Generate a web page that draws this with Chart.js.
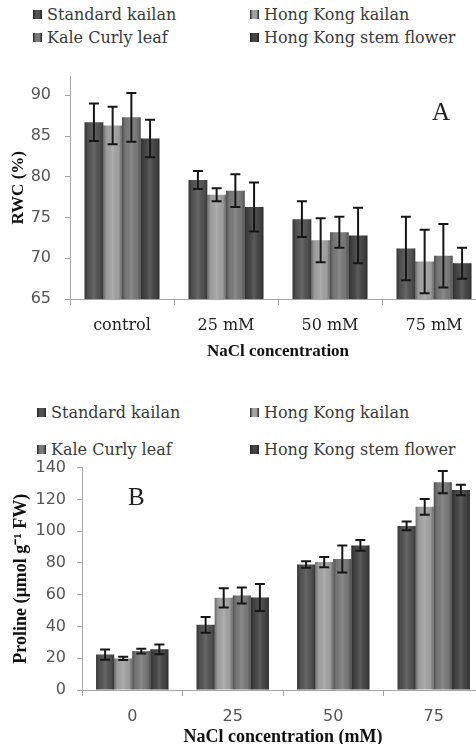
<!DOCTYPE html>
<html>
<head>
<meta charset="utf-8">
<script src="https://cdn.jsdelivr.net/npm/chart.js@4.4.1/dist/chart.umd.min.js"></script>
<style>
body { margin: 0; width: 476px; height: 744px; overflow: hidden; background: #fff; position: relative; }
.leg { position: absolute; font-family: "DejaVu Serif", serif; font-size: 16px; color: #3a3a3a; line-height: 18px; white-space: nowrap; }
.leg i { display: inline-block; width: 9px; height: 9px; margin-right: 5px; vertical-align: 1px; }
.tag { position: absolute; font-family: "Liberation Serif", serif; font-size: 25px; color: #222; line-height: 26px; }
canvas { position: absolute; left: 0; }
</style>
</head>
<body>
<div id="legA"></div>
<div id="legB"></div>
<canvas id="chartA" width="490" height="317" style="top:53px"></canvas>
<canvas id="chartB" width="490" height="308" style="top:447px"></canvas>
<div class="tag" style="left:432px;top:99px">A</div>
<div class="tag" style="left:128px;top:484px">B</div>
<script>
// series
var seriesNames = ['Standard kailan', 'Hong Kong kailan', 'Kale Curly leaf', 'Hong Kong stem flower'];
var seriesColors = ['#535353', '#a4a4a4', '#7a7a7a', '#454545'];

// panel A: relative water content
var rwcLabels = ['control', '25 mM', '50 mM', '75 mM'];
var rwcStandard = [86.7, 79.6, 74.8, 71.2];
var rwcHongKong = [86.3, 77.8, 72.2, 69.6];
var rwcKale = [87.3, 78.3, 73.2, 70.3];
var rwcStem = [84.7, 76.3, 72.8, 69.4];
var rwcErrStandard = [2.3, 1.1, 2.2, 3.9];
var rwcErrHongKong = [2.3, 0.8, 2.7, 3.9];
var rwcErrKale = [3.0, 2.0, 1.9, 3.9];
var rwcErrStem = [2.3, 3.0, 3.4, 1.9];

// panel B: proline
var proLabels = ['0', '25', '50', '75'];
var proStandard = [22.3, 41, 79, 103.3];
var proHongKong = [19.9, 58, 80.5, 115.3];
var proKale = [24.5, 59.5, 82.5, 130.8];
var proStem = [25.6, 58.3, 91, 125.9];
var proErrStandard = [3.2, 5, 2, 2.7];
var proErrHongKong = [1, 6, 3.3, 5];
var proErrKale = [1.5, 5, 8.5, 7];
var proErrStem = [3.1, 8.5, 3.4, 3.3];

function buildLegend(id, left1, left2, row1, row2) {
	var box = document.getElementById(id);
	var pos = [[left1, row1], [left2, row1], [left1, row2], [left2, row2]];
	seriesNames.forEach(function (name, i) {
		var d = document.createElement('div');
		d.className = 'leg';
		d.style.left = pos[i][0] + 'px';
		d.style.top = (pos[i][1] - 9) + 'px';
		d.innerHTML = '<i style="background:linear-gradient(90deg,#222,' + seriesColors[i] + ' 30%,' + seriesColors[i] + ' 70%,#222)"></i>';
		d.appendChild(document.createTextNode(name));
		box.appendChild(d);
	});
}
buildLegend('legA', 33, 250, 15, 38);
buildLegend('legB', 37, 250, 413, 450);

// shading on the bars + error bars
var barExtras = {
	id: 'barExtras',
	afterDatasetsDraw: function (chart) {
		var ctx = chart.ctx;
		var yScale = chart.scales.y;
		var area = chart.chartArea;
		ctx.save();
		ctx.beginPath();
		ctx.rect(area.left, area.top, area.right - area.left, area.bottom - area.top);
		ctx.clip();
		chart.data.datasets.forEach(function (ds, i) {
			chart.getDatasetMeta(i).data.forEach(function (bar, j) {
				var p = bar.getProps(['x', 'y', 'base', 'width'], true);
				var l = p.x - p.width / 2;
				var bottom = Math.min(p.base, area.bottom);
				var g = ctx.createLinearGradient(l, 0, l + p.width, 0);
				g.addColorStop(0, 'rgba(0,0,0,0.35)');
				g.addColorStop(0.18, 'rgba(0,0,0,0.04)');
				g.addColorStop(0.5, 'rgba(255,255,255,0.12)');
				g.addColorStop(0.82, 'rgba(0,0,0,0.04)');
				g.addColorStop(1, 'rgba(0,0,0,0.35)');
				ctx.fillStyle = g;
				ctx.fillRect(l, p.y, p.width, bottom - p.y);
			});
		});
		ctx.strokeStyle = '#161616';
		ctx.lineWidth = 2;
		chart.data.datasets.forEach(function (ds, i) {
			chart.getDatasetMeta(i).data.forEach(function (bar, j) {
				var v = ds.data[j], e = ds.errors[j];
				var x = bar.x;
				var top = yScale.getPixelForValue(v + e);
				var bot = yScale.getPixelForValue(v - e);
				ctx.beginPath();
				ctx.moveTo(x, top); ctx.lineTo(x, bot);
				ctx.moveTo(x - 5, top); ctx.lineTo(x + 5, top);
				ctx.moveTo(x - 5, bot); ctx.lineTo(x + 5, bot);
				ctx.stroke();
			});
		});
		ctx.restore();
	}
};

function makeChart(id, cfg) {
	var ctx = document.getElementById(id).getContext('2d');
	return new Chart(ctx, {
		type: 'bar',
		data: {
			labels: cfg.labels,
			datasets: cfg.values.map(function (vals, i) {
				return {
					label: seriesNames[i],
					data: vals,
					errors: cfg.errors[i],
					backgroundColor: seriesColors[i],
					categoryPercentage: 0.72,
					barPercentage: 1.0
				};
			})
		},
		options: {
			responsive: false,
			animation: false,
			layout: { padding: { top: 0, right: cfg.padRight, left: 0, bottom: 0 } },
			plugins: {
				legend: { display: false },
				tooltip: { enabled: false }
			},
			scales: {
				x: {
					grid: { offset: true, drawOnChartArea: false, tickLength: 6, color: '#a6a6a6' },
					border: { color: '#a6a6a6' },
					ticks: { font: cfg.xFont, color: cfg.xColor, padding: 11 },
					title: { display: true, text: cfg.xTitle, color: '#111', padding: { top: 0, bottom: cfg.xTitlePad },
						font: { family: 'Liberation Serif', size: cfg.titleSize, weight: 'bold' } },
					afterFit: function (s) { s.height = cfg.xHeight; }
				},
				y: {
					min: cfg.min,
					max: cfg.max,
					grid: { drawOnChartArea: false, tickLength: 5, color: '#a6a6a6' },
					border: { color: '#a6a6a6' },
					ticks: { stepSize: cfg.step, padding: cfg.yPad, color: '#555',
						font: { family: 'DejaVu Sans', size: 16 } },
					afterBuildTicks: function (s) {
						s.ticks = s.ticks.filter(function (t) { return Math.abs(t.value / cfg.step - Math.round(t.value / cfg.step)) < 1e-6; });
					},
					title: { display: true, text: cfg.yTitle, color: '#111', padding: { top: cfg.yTitlePad, bottom: 0 },
						font: { family: 'Liberation Serif', size: cfg.titleSize, weight: 'bold' } },
					afterFit: function (s) { s.width = cfg.yWidth; }
				}
			}
		},
		plugins: [barExtras]
	});
}

makeChart('chartA', {
	labels: rwcLabels,
	values: [rwcStandard, rwcHongKong, rwcKale, rwcStem],
	errors: [rwcErrStandard, rwcErrHongKong, rwcErrKale, rwcErrStem],
	min: 65, max: 92.3, step: 5,
	yTitle: 'RWC (%)', xTitle: 'NaCl concentration',
	xFont: { family: 'DejaVu Serif', size: 16 }, xColor: '#222',
	titleSize: 17, padRight: 4, yWidth: 70, xHeight: 71,
	yPad: 14, yTitlePad: 8, xTitlePad: 8
});

makeChart('chartB', {
	labels: proLabels,
	values: [proStandard, proHongKong, proKale, proStem],
	errors: [proErrStandard, proErrHongKong, proErrKale, proErrStem],
	min: 0, max: 140, step: 20,
	yTitle: 'Proline (\u00b5mol g\u207b\u00b9 FW)', xTitle: 'NaCl concentration (mM)',
	xFont: { family: 'DejaVu Sans', size: 16 }, xColor: '#555',
	titleSize: 18, padRight: 6, yWidth: 82, xHeight: 65,
	yPad: 11, yTitlePad: 11, xTitlePad: 7
});
</script>
</body>
</html>
